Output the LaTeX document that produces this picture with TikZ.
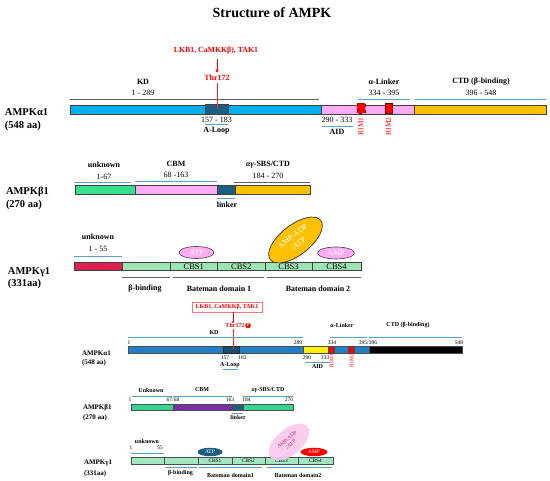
\documentclass[tikz,border=0pt]{standalone}
\usepackage{fontspec}
\setmainfont{Liberation Serif}
\usetikzlibrary{shapes.geometric,arrows.meta}
\definecolor{cyanbar}{HTML}{00B0F0}
\definecolor{loopteal}{HTML}{1B5E80}
\definecolor{pinkbar}{HTML}{FFABF5}
\definecolor{orangebar}{HTML}{FFC000}
\definecolor{greenbar}{HTML}{38E08E}
\definecolor{tealbar}{HTML}{1B5E82}
\definecolor{crimbar}{HTML}{DC2050}
\definecolor{palegreen}{HTML}{9DE4B3}
\definecolor{lineblue}{HTML}{5FA0C0}
\definecolor{linegray}{HTML}{606060}
\definecolor{blue2}{HTML}{1F7FC9}
\definecolor{green2}{HTML}{35D58F}
\definecolor{purple2}{HTML}{7B2FA5}
\definecolor{green3}{HTML}{A3E6C2}
\definecolor{pinkell}{HTML}{F9C6EC}
\definecolor{ptext}{HTML}{E0306A}
\begin{document}
\begin{tikzpicture}[x=1pt,y=-1pt,
  every node/.style={inner sep=0pt,outer sep=0pt},
  bx/.style={draw=black!75,line width=0.6pt},
  bx2/.style={draw=black!70,line width=0.4pt},
  bline/.style={draw=lineblue,line width=0.9pt},
  gline/.style={draw=linegray,line width=0.9pt},
  hd/.style={font=\bfseries\fontsize{8}{9}\selectfont},
  nm/.style={font=\fontsize{8}{9}\selectfont},
  big/.style={font=\bfseries\fontsize{10.5}{12}\selectfont,anchor=west},
  rim/.style={font=\fontsize{7.5}{8}\selectfont,text=red,rotate=90},
  shd/.style={font=\bfseries\fontsize{6}{7}\selectfont},
  snm/.style={font=\fontsize{5.5}{6}\selectfont},
  sbig/.style={font=\bfseries\fontsize{7}{8}\selectfont,anchor=west},
  srim/.style={font=\fontsize{5.5}{6}\selectfont,text=red,rotate=90},
  cbs/.style={font=\fontsize{8.5}{9}\selectfont},
  scbs/.style={font=\fontsize{5.3}{6}\selectfont}]
\useasboundingbox (0,0) rectangle (550,481);

\node[font=\bfseries\fontsize{14}{16}\selectfont] (title) at (272,13) {Structure of AMPK};

% ===== Top alpha1 =====
\node[big] (a1name) at (5,112) {AMPKα1};
\node[big] (a1len) at (5,126) {(548 aa)};
\draw[bx,fill=cyanbar] (70,105) rectangle (321,114);
\draw[bx,fill=pinkbar] (321,105) rectangle (414,114);
\draw[bx,fill=orangebar] (414,105) rectangle (546,114);
\draw[bx,fill=loopteal] (205,104.5) rectangle (228,114.5);
\draw[fill=red,draw=red!50!black,dashed,line width=0.5pt] (357,103.5) rectangle (365,113.5);
\draw[fill=red,draw=red!45!black,line width=0.6pt] (385,103.5) rectangle (392,113.5);
\draw[gline] (70,99) -- (319,99);
\draw[bline] (358,99) -- (410,99);
\draw[bline] (415,99) -- (546,99);
\node[hd] (kd) at (143,82) {KD};
\node[nm] (kdn) at (143,92.5) {1 - 289};
\node[hd] (alink) at (384,81.5) {α-Linker};
\node[nm] (alinkn) at (384,92.5) {334 - 395};
\node[hd] (ctd) at (481,81.5) {CTD (β-binding)};
\node[nm] (ctdn) at (481,92.5) {396 - 548};
\node[hd,text=red,font=\bfseries\fontsize{7.8}{9}\selectfont] (lkb) at (216,51) {LKB1, CaMKKβ), TAK1};
\node[hd,text=red] (thr) at (217,78) {Thr172};
\draw[red,line width=0.7pt,-{Triangle[length=3pt,width=3pt]},shorten <=4pt,shorten >=2.5pt] (lkb.south -| thr) -- (thr.north);
\coordinate (thrhit) at (217,109.5);
\draw[red!85!white,line width=0.8pt,shorten <=2pt] (thr.south) -- (thrhit);
\node[nm] (loopn) at (216.5,119.5) {157 - 183};
\draw[bline] (205,124.5) -- (228,124.5);
\node[hd] (loop) at (216.5,130.5) {A-Loop};
\node[nm] (aidn) at (337,120) {290 - 333};
\draw[bline] (322,126) -- (353,126);
\node[hd] (aid) at (337,132) {AID};
\node[rim] (rim1) at (361,126.5) {RIM1};
\node[rim] (rim2) at (388.5,126.5) {RIM2};

% ===== Top beta1 =====
\node[big] (b1name) at (6,192) {AMPKβ1};
\node[big] (b1len) at (6,204.5) {(270 aa)};
\draw[bx,fill=greenbar] (75,185) rectangle (135,194);
\draw[bx,fill=pinkbar] (135,185) rectangle (217.5,194);
\draw[bx,fill=tealbar] (217.5,185) rectangle (235,194);
\draw[bx,fill=orangebar] (235,185) rectangle (310.5,194);
\draw[bline] (74,182) -- (130.5,182);
\draw[bline] (135,181) -- (217,181);
\draw[gline] (234,182) -- (310,182);
\draw[bline] (217,198) -- (235,198);
\node[hd] (unk1) at (104,165) {unknown};
\node[nm] (unk1n) at (104,177) {1-67};
\node[hd] (cbm) at (176,163.5) {CBM};
\node[nm] (cbmn) at (176,174.5) {68 -163};
\node[hd] (sbs) at (268,165) {\itshape αγ\upshape-SBS/CTD};
\node[nm] (sbsn) at (268,175.5) {184 - 270};
\node[hd] (linker) at (227,205) {linker};

% ===== Top gamma1 =====
\node[big] (g1name) at (8,272) {AMPKγ1};
\node[big] (g1len) at (8,283.5) {(331aa)};
\draw[bx,fill=crimbar] (74,262) rectangle (122,270);
\draw[bx,fill=palegreen] (122,262) rectangle (170,270);
\draw[bx,fill=palegreen] (170,262) rectangle (217.5,270);
\draw[bx,fill=palegreen] (217.5,262) rectangle (265,270);
\draw[bx,fill=palegreen] (265,262) rectangle (312,270);
\draw[bx,fill=palegreen] (312,262) rectangle (361,270);
\node[cbs] (cbs1) at (193.75,266.3) {CBS1};
\node[cbs] (cbs2) at (241.25,266.3) {CBS2};
\node[cbs] (cbs3) at (288.5,266.3) {CBS3};
\node[cbs] (cbs4) at (336.5,266.3) {CBS4};
\node[hd] (unk2) at (98,237) {unknown};
\node[nm] (unk2n) at (98,248.5) {1 - 55};
\draw[bline] (74,256) -- (122,256);
\node[ellipse,draw=black!75,line width=0.6pt,fill=pinkbar,minimum width=35,minimum height=12,text=white,font=\fontsize{8}{9}\selectfont] (atp1) at (196.5,252.5) {ATP};
\node[ellipse,draw=black!75,line width=0.6pt,fill=pinkbar,minimum width=37,minimum height=12,text=white,font=\fontsize{8}{9}\selectfont] (amp1) at (336,253) {AMP};
\node[ellipse,draw=black!80,line width=0.7pt,fill=orangebar,minimum width=64,minimum height=30,rotate=38] (big1) at (295.5,240) {};
\node[text=white,font=\fontsize{8}{9}\selectfont,align=center,rotate=38] (big1t) at (295.5,240) {AMP/ADP\\/ATP};
\draw[gline] (122,277) -- (170,277);
\draw[gline] (173,277) -- (264,277);
\draw[gline] (267,277) -- (361,277);
\node[hd] (bbind) at (145,288.5) {β-binding};
\node[hd] (bat1) at (219,288.5) {Bateman domain 1};
\node[hd] (bat2) at (318,288.5) {Bateman domain 2};

% ===== Bottom alpha1 =====
\node[sbig] (a2name) at (82,353) {AMPKα1};
\node[sbig] (a2len) at (82,362.5) {(548 aa)};
\node[draw=red!55!white,line width=0.7pt,minimum width=70,minimum height=10.5,text=red,font=\bfseries\fontsize{6}{7}\selectfont] (lkb2) at (227,307.2) {LKB1, CaMKKβ, TAK1};
\node[shd,text=red] (thr2) at (235,325.5) {Thr172};
\node[circle,fill=red,minimum size=5.6pt,text=white,font=\bfseries\fontsize{4.5}{5}\selectfont] (p2) at (248,325.5) {P};
\coordinate (arr2) at (233,312.5);
\draw[red,line width=0.5pt,-{Triangle[length=2pt,width=2pt]}] (arr2) -- (arr2 |- thr2.north);
\coordinate (hit2a) at (233,329.5);
\coordinate (hit2b) at (233,349.5);
\draw[bx2,fill=blue2] (128,346) rectangle (303,353);
\draw[bx2,fill=yellow] (303,346) rectangle (328,353);
\draw[bx2,fill=red] (328,346) rectangle (334.5,353);
\draw[bx2,fill=blue2] (334.5,346) rectangle (348,353);
\draw[bx2,fill=red] (348,346) rectangle (354,353);
\draw[bx2,fill=blue2] (354,346) rectangle (369,353);
\draw[bx2,fill=black] (369,346) rectangle (462,353);
\draw[draw=black!85,line width=0.5pt,fill=loopteal!85!black] (223,346) rectangle (239,353);
\draw[red!85!white,line width=0.7pt] (hit2a) -- (hit2b);
\draw[bline,line width=0.7pt] (128,337.5) -- (303,337.5);
\draw[bline,line width=0.7pt] (330,337.5) -- (367,337.5);
\draw[bline,line width=0.7pt] (369,337.5) -- (462,337.5);
\node[shd] (kd2) at (214,333) {KD};
\node[shd] (alink2) at (342,325.5) {α-Linker};
\node[shd] (ctd2) at (408,325.5) {CTD (β-binding)};
\node[snm] (n1) at (129,343) {1};
\node[snm] (n289) at (298,343) {289};
\node[snm] (n334) at (332,343) {334};
\node[snm] (n395) at (368,343) {395/396};
\node[snm] (n548) at (459,343) {548};
\node[snm] (n157) at (225,357.5) {157};
\node[snm] (n183) at (242.5,357.5) {183};
\node[shd] (loop2) at (230,365) {A-Loop};
\draw[bline,line width=0.7pt] (223,369.5) -- (238,369.5);
\node[snm] (n290) at (307,357.5) {290};
\node[snm] (n333) at (325,357.5) {333};
\draw[bline,line width=0.7pt] (305,362.5) -- (330,362.5);
\node[shd] (aid2) at (317.5,366.5) {AID};
\node[srim] (rim1b) at (331.5,360.5) {RIM1};
\node[srim] (rim2b) at (351.5,360.5) {RIM2};

% ===== Bottom beta1 =====
\node[sbig] (b2name) at (83,407.5) {AMPKβ1};
\node[sbig] (b2len) at (83,418) {(270 aa)};
\draw[bx2,fill=green2] (131,404) rectangle (173,410);
\draw[bx2,fill=purple2] (173,404) rectangle (232,410);
\draw[bx2,fill=tealbar] (232,404) rectangle (243,410);
\draw[bx2,fill=green2] (243,404) rectangle (293,410);
\draw[bline,line width=0.7pt] (132,396) -- (172,396);
\draw[bline,line width=0.7pt] (173,396) -- (232,396);
\draw[bline,line width=0.7pt] (243,396) -- (293,396);
\draw[bline,line width=0.7pt] (232,413) -- (243,413);
\node[shd] (unk3) at (151,390) {Unknown};
\node[shd] (cbm2) at (202,390) {CBM};
\node[shd] (sbs2) at (268,390) {\itshape αγ\upshape-SBS/CTD};
\node[snm] (m1) at (130,400) {1};
\node[snm] (m67) at (173,400) {67/68};
\node[snm] (m163) at (230,400) {163};
\node[snm] (m184) at (246.5,400) {184};
\node[snm] (m270) at (289,400) {270};
\node[shd] (linker2) at (238,417.5) {linker};

% ===== Bottom gamma1 =====
\node[sbig] (g2name) at (84,463) {AMPKγ1};
\node[sbig] (g2len) at (84,473.5) {(331aa)};
\node[shd] (unk4) at (147,441) {unknown};
\node[snm] (k1) at (131,448) {1};
\node[snm] (k55) at (160,448) {55};
\draw[bline,line width=0.7pt] (131,453) -- (164,453);
\draw[bx2,fill=green3] (131,457) rectangle (164,464);
\draw[bx2,fill=green3] (164,457) rectangle (198,464);
\draw[bx2,fill=green3] (198,457) rectangle (232,464);
\draw[bx2,fill=green3] (232,457) rectangle (265,464);
\draw[bx2,fill=green3] (265,457) rectangle (298,464);
\draw[bx2,fill=green3] (298,457) rectangle (333,464);
\node[scbs] (c1) at (215,460.7) {CBS1};
\node[scbs] (c2) at (248.5,460.7) {CBS2};
\node[scbs] (c3) at (281.5,460.7) {CBS3};
\node[scbs] (c4) at (315.5,460.7) {CBS4};
\node[ellipse,fill=tealbar,minimum width=25,minimum height=8.5,text=white,font=\fontsize{5.5}{6}\selectfont] (atp2) at (210,452) {ATP};
\node[ellipse,fill=red,minimum width=27,minimum height=8.5,text=white,font=\fontsize{5.5}{6}\selectfont] (amp2) at (314,452) {AMP};
\node[ellipse,fill=pinkell,opacity=0.9,minimum width=48,minimum height=26,rotate=40] (big2) at (289,442) {};
\node[text=ptext,font=\fontsize{5.5}{6}\selectfont,align=center,rotate=40] (big2t) at (289,442) {AMP/ADP\\/ATP};
\draw[bline,line width=0.7pt] (165,467) -- (197,467);
\draw[bline,line width=0.7pt] (199,467) -- (262,467);
\draw[bline,line width=0.7pt] (267,467) -- (332,467);
\node[shd] (bbind2) at (180.5,473.5) {β-binding};
\node[shd] (bat3) at (230.5,475.5) {Bateman domain1};
\node[shd] (bat4) at (298,475.5) {Bateman domain2};
\end{tikzpicture}
\end{document}
